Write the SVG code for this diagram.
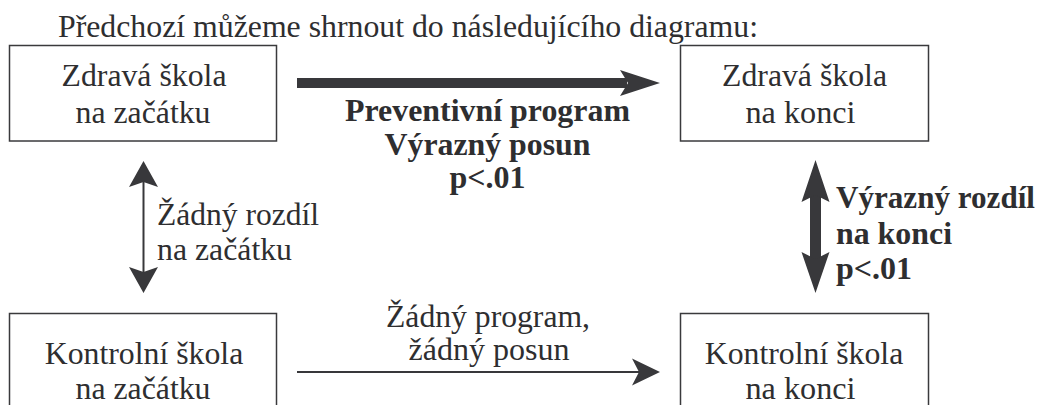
<svg xmlns="http://www.w3.org/2000/svg" width="1042" height="405" viewBox="0 0 1042 405">
<style>
  text { font-family: "Liberation Serif", "Times New Roman", serif; font-size: 32.5px; fill: #2e2e30; }
  .b { font-weight: bold; }
  .m { text-anchor: middle; }
  .box { fill: #ffffff; stroke: #3a3a3c; stroke-width: 1.5; }
  .thin { stroke: #38383b; stroke-width: 2; fill: none; }
  .head { fill: #38383b; stroke: none; }
</style>
<rect x="0" y="0" width="1042" height="405" fill="#ffffff"/>
<text x="58" y="37" textLength="700" lengthAdjust="spacingAndGlyphs">Předchozí můžeme shrnout do následujícího diagramu:</text>

<g id="zdrava-zacatek">
  <rect class="box" x="9.5" y="45.5" width="267" height="95.5"/>
  <text class="m" x="144" y="86" textLength="165" lengthAdjust="spacingAndGlyphs">Zdravá škola</text>
  <text class="m" x="143" y="123" textLength="135" lengthAdjust="spacingAndGlyphs">na začátku</text>
</g>
<g id="zdrava-konec">
  <rect class="box" x="680.5" y="45.5" width="248" height="95.5"/>
  <text class="m" x="804.5" y="86" textLength="165" lengthAdjust="spacingAndGlyphs">Zdravá škola</text>
  <text class="m" x="800.5" y="123" textLength="110" lengthAdjust="spacingAndGlyphs">na konci</text>
</g>
<g id="kontrolni-zacatek">
  <rect class="box" x="9.5" y="313.5" width="267" height="100"/>
  <text class="m" x="144" y="364" textLength="198.5" lengthAdjust="spacingAndGlyphs">Kontrolní škola</text>
  <text class="m" x="143" y="399" textLength="135" lengthAdjust="spacingAndGlyphs">na začátku</text>
</g>
<g id="kontrolni-konec">
  <rect class="box" x="680.5" y="313.5" width="248" height="100"/>
  <text class="m" x="804" y="364" textLength="198.5" lengthAdjust="spacingAndGlyphs">Kontrolní škola</text>
  <text class="m" x="800.5" y="399" textLength="110" lengthAdjust="spacingAndGlyphs">na konci</text>
</g>

<g id="connectors">
  <rect class="head" x="297" y="78" width="330" height="10"/>
  <polygon class="head" points="660,83 620,70 628,83 620,96"/>
  <rect class="head" x="810" y="194" width="11" height="66"/>
  <polygon class="head" points="815.5,160 801.5,202 815.5,195 829.5,202"/>
  <polygon class="head" points="815.5,293 801.5,252 815.5,259 829.5,252"/>
  <line class="thin" x1="143.5" y1="180" x2="143.5" y2="274"/>
  <polygon class="head" points="143.5,161 129,187 143.5,182 158,187"/>
  <polygon class="head" points="143.5,293 129,267 143.5,272 158,267"/>
  <line class="thin" x1="297" y1="372" x2="642" y2="372"/>
  <polygon class="head" points="660,372 632,358.5 639,372 632,385.5"/>
</g>

<g id="labels">
  <g id="label-preventivni">
    <text class="b m" x="487.5" y="121" textLength="285" lengthAdjust="spacingAndGlyphs">Preventivní program</text>
    <text class="b m" x="487.5" y="155" textLength="206" lengthAdjust="spacingAndGlyphs">Výrazný posun</text>
    <text class="b m" x="487.5" y="188" textLength="76" lengthAdjust="spacingAndGlyphs">p&lt;.01</text>
  </g>
  <g id="label-zadny-rozdil">
    <text x="157" y="225" textLength="162" lengthAdjust="spacingAndGlyphs">Žádný rozdíl</text>
    <text x="157" y="260" textLength="135" lengthAdjust="spacingAndGlyphs">na začátku</text>
  </g>
  <g id="label-vyrazny-rozdil">
    <text class="b" x="836" y="208" textLength="199" lengthAdjust="spacingAndGlyphs">Výrazný rozdíl</text>
    <text class="b" x="836" y="244" textLength="116" lengthAdjust="spacingAndGlyphs">na konci</text>
    <text class="b" x="836" y="279" textLength="76" lengthAdjust="spacingAndGlyphs">p&lt;.01</text>
  </g>
  <g id="label-zadny-program">
    <text class="m" x="488" y="327" textLength="204" lengthAdjust="spacingAndGlyphs">Žádný program,</text>
    <text class="m" x="489" y="360" textLength="161" lengthAdjust="spacingAndGlyphs">žádný posun</text>
  </g>
</g>
</svg>
